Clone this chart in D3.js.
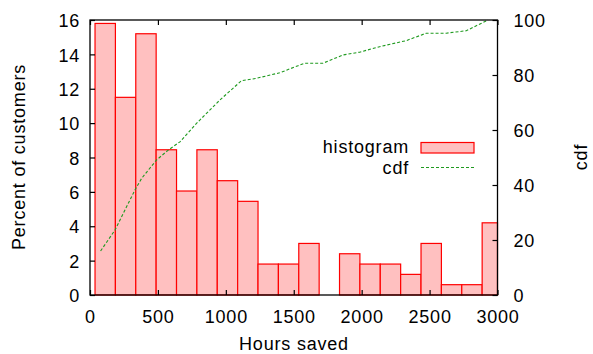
<!DOCTYPE html>
<html>
<head>
<meta charset="utf-8">
<script src="https://cdn.jsdelivr.net/npm/d3@7"></script>
<style>
  body { margin: 0; background: #fff; }
  svg text { font-family: "Liberation Sans", Arial, sans-serif; font-size: 18px; letter-spacing: 0.8px; fill: #000; }
</style>
</head>
<body>
<div id="chart"></div>
<script>
// histogram bins (left edge, hours) and percent of customers per bin
var binStarts = [37, 187, 337, 487, 637, 787, 937, 1087, 1237, 1387,
                 1537, 1687, 1837, 1987, 2137, 2287, 2437, 2587, 2737, 2887];
var binWidth = 150;
var percents = [15.8, 11.5, 15.2, 8.45, 6.05, 8.45, 6.65, 5.45, 1.8, 1.8,
                3.0, 0, 2.4, 1.8, 1.8, 1.2, 3.0, 0.6, 0.6, 4.2];

// cdf curve, hours vs cumulative percent
var cdfHours = [78, 184, 331, 380, 490, 576, 662, 784, 956, 1115, 1225, 1397,
                1532, 1581, 1716, 1863, 1985, 2132, 2328, 2475, 2622, 2770, 2930];
var cdfValues = [16, 23.6, 38.2, 42.4, 49.1, 52.7, 55.7, 62.4, 70.9, 77.9, 78.8, 80.8,
                 83.4, 84.3, 84.3, 87.3, 88.3, 90.3, 92.5, 95.2, 95.2, 96.1, 100];

var xTicks = [0, 500, 1000, 1500, 2000, 2500, 3000];
var yTicks = [0, 2, 4, 6, 8, 10, 12, 14, 16];
var y2Ticks = [0, 20, 40, 60, 80, 100];

var W = 593, H = 354;
var margin = {top: 20, right: 95.5, bottom: 59, left: 90};
var width = W - margin.left - margin.right;
var height = H - margin.top - margin.bottom;

var svg = d3.select('#chart').append('svg')
    .attr('width', W)
    .attr('height', H);

var chart = svg.append('g')
    .attr('transform', 'translate(' + margin.left + ',' + margin.top + ')');

var xScale = d3.scaleLinear().domain([0, 3000]).range([0, width]);
var yScale = d3.scaleLinear().domain([0, 16]).range([height, 0]);
var y2Scale = d3.scaleLinear().domain([0, 100]).range([height, 0]);

/*----- BARS -----*/
var bars = binStarts.map(function(s, i) {
    return {x0: s, x1: Math.min(s + binWidth, 3000), value: percents[i]};
});

chart.selectAll('.bar')
    .data(bars)
    .enter()
    .append('rect')
    .attr('class', 'bar')
    .attr('x', function(d) { return xScale(d.x0); })
    .attr('y', function(d) { return yScale(d.value); })
    .attr('width', function(d) { return xScale(d.x1) - xScale(d.x0); })
    .attr('height', function(d) { return height - yScale(d.value); })
    .attr('fill', '#ffc0c0')
    .attr('stroke', '#ff0000')
    .attr('stroke-width', 1.2);

/*----- CDF -----*/
var cdf = cdfHours.map(function(h, i) { return [h, cdfValues[i]]; });
var line = d3.line()
    .x(function(d) { return xScale(d[0]); })
    .y(function(d) { return y2Scale(d[1]); });

chart.append('path')
    .datum(cdf)
    .attr('d', line)
    .attr('fill', 'none')
    .attr('stroke', '#1f9a1f')
    .attr('stroke-width', 1.1)
    .attr('stroke-dasharray', '3,2');

/*----- AXES (gnuplot style, ticks inward) -----*/
var xAxis = d3.axisBottom(xScale).tickValues(xTicks).tickFormat(d3.format('d'))
    .tickSize(-5).tickSizeOuter(0).tickPadding(15);
var xTop = d3.axisTop(xScale).tickValues(xTicks).tickSize(-5).tickSizeOuter(0).tickFormat('');
var yAxis = d3.axisLeft(yScale).tickValues(yTicks).tickSize(-5).tickSizeOuter(0).tickPadding(10);
var y2Axis = d3.axisRight(y2Scale).tickValues(y2Ticks).tickSize(-5).tickSizeOuter(0).tickPadding(16);

function styleAxis(g) {
    g.select('.domain').remove();
    g.selectAll('line').attr('stroke', '#000').attr('stroke-width', 1.2);
    g.attr('font-family', null).attr('font-size', null);
}

chart.append('g').attr('transform', 'translate(0,' + height + ')').call(xAxis).call(styleAxis)
    .selectAll('text').attr('dy', '0.71em');
chart.append('g').call(xTop).call(styleAxis);
chart.append('g').call(yAxis).call(styleAxis)
    .selectAll('text').attr('dy', '0.37em');
chart.append('g').attr('transform', 'translate(' + width + ',0)').call(y2Axis).call(styleAxis)
    .selectAll('text').attr('dy', '0.37em');

chart.append('rect')
    .attr('width', width)
    .attr('height', height)
    .attr('fill', 'none')
    .attr('stroke', '#000')
    .attr('stroke-width', 1.3);

/*----- LABELS -----*/
svg.append('text')
    .attr('x', 294).attr('y', 350)
    .attr('text-anchor', 'middle')
    .text('Hours saved');

svg.append('text')
    .attr('transform', 'translate(25,157) rotate(-90)')
    .attr('text-anchor', 'middle')
    .text('Percent of customers');

svg.append('text')
    .attr('transform', 'translate(587,157) rotate(-90)')
    .attr('text-anchor', 'middle')
    .text('cdf');

/*----- LEGEND -----*/
var legend = svg.append('g');
legend.append('text').attr('x', 409).attr('y', 153).attr('text-anchor', 'end').text('histogram');
legend.append('rect')
    .attr('x', 421).attr('y', 142.5).attr('width', 53).attr('height', 10.5)
    .attr('fill', '#ffc0c0').attr('stroke', '#ff0000').attr('stroke-width', 1.2);
legend.append('text').attr('x', 409).attr('y', 174).attr('text-anchor', 'end').text('cdf');
legend.append('line')
    .attr('x1', 421).attr('x2', 474).attr('y1', 167.5).attr('y2', 167.5)
    .attr('stroke', '#1f9a1f').attr('stroke-width', 1.1).attr('stroke-dasharray', '3,2');
</script>
</body>
</html>
